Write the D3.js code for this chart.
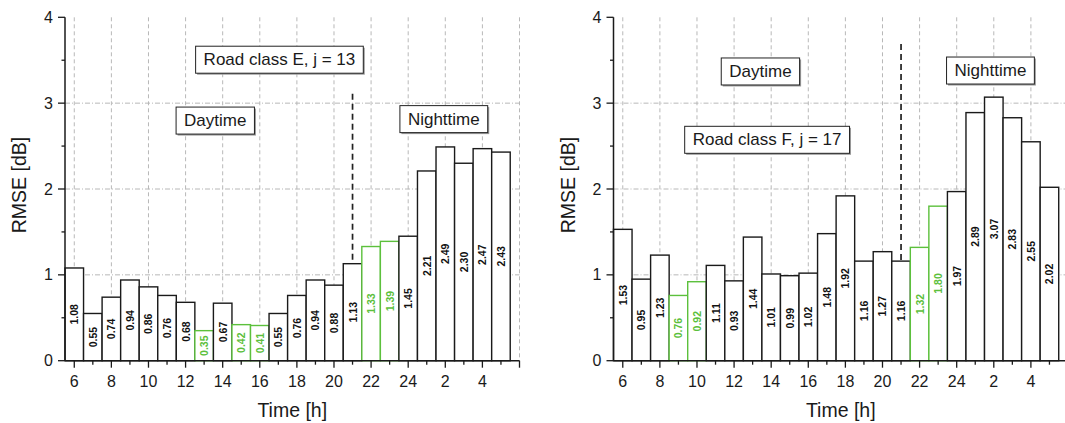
<!DOCTYPE html>
<html><head><meta charset="utf-8">
<script src="https://cdn.jsdelivr.net/npm/d3@7"></script>
<style>
body{margin:0;background:#fff;}
svg{display:block;font-family:"Liberation Sans",Arial,Helvetica,sans-serif;}
</style>
</head><body>
<svg id="chart" width="1065" height="423"></svg>
<script>
// ---------- data ----------
const hours = [6,7,8,9,10,11,12,13,14,15,16,17,18,19,20,21,22,23,24,1,2,3,4,5];
const valuesE = [1.08,0.55,0.74,0.94,0.86,0.76,0.68,0.35,0.67,0.42,0.41,0.55,0.76,0.94,0.88,1.13,1.33,1.39,1.45,2.21,2.49,2.30,2.47,2.43];
const valuesF = [1.53,0.95,1.23,0.76,0.92,1.11,0.93,1.44,1.01,0.99,1.02,1.48,1.92,1.16,1.27,1.16,1.32,1.80,1.97,2.89,3.07,2.83,2.55,2.02];
const greenHoursE = [13,15,16,22,23];
const greenHoursF = [9,10,22,23];
const xTickLabels = ["6","8","10","12","14","16","18","20","22","24","2","4",""];
const yTickValues = [0,1,2,3,4];
const titleE = "Road class E, j = 13";
const titleF = "Road class F, j = 17";
const dayText = "Daytime";
const nightText = "Nighttime";
const xTitle = "Time [h]";
const yTitle = "RMSE [dB]";
const boundaryHour = 21;

// ---------- drawing ----------
const svg = d3.select("#chart");
const GREEN = "#5cc03c", INK = "#1a1a1a", GRID = "#b8b8b8";

function panel(opt){
  const g = svg.append("g");
  const x = d3.scaleLinear().domain([-0.5, 24]).range(opt.xr);
  const y = d3.scaleLinear().domain([0, 4]).range([360.7, 17.3]);
  const x0 = x(-0.5), y0 = y(0);

  // grid
  const majorIdx = d3.range(0, 25, 2);
  g.selectAll(".vg").data(majorIdx).enter().append("line")
    .attr("x1", d => x(d)).attr("x2", d => x(d)).attr("y1", y(4)).attr("y2", y0)
    .attr("stroke", GRID).attr("stroke-width", 1).attr("stroke-dasharray", "4,3");
  g.selectAll(".hg").data([1,2,3]).enter().append("line")
    .attr("x1", x0).attr("x2", x(24)).attr("y1", d => y(d)).attr("y2", d => y(d))
    .attr("stroke", GRID).attr("stroke-width", 1).attr("stroke-dasharray", "5,2,1,2");

  // day/night boundary
  const bi = hours.indexOf(boundaryHour);
  g.append("line").attr("x1", x(bi)).attr("x2", x(bi))
    .attr("y1", y(opt.dashTop)).attr("y2", y0)
    .attr("stroke", "#222").attr("stroke-width", 1.7).attr("stroke-dasharray", "6,4");

  // bars
  const data = opt.values.map((v, i) => ({v, i, h: hours[i], green: opt.green.includes(hours[i])}));
  g.selectAll(".bar").data(data).enter().append("rect")
    .attr("x", d => x(d.i - 0.5)).attr("width", d => x(d.i + 0.5) - x(d.i - 0.5))
    .attr("y", d => y(d.v)).attr("height", d => y0 - y(d.v))
    .attr("fill", "#fff").attr("stroke", d => d.green ? GREEN : INK).attr("stroke-width", 1.4);

  // value labels
  g.selectAll(".vl").data(data).enter().append("text")
    .attr("transform", d => `translate(${x(d.i)},${y(d.v / 2)}) rotate(-90)`)
    .attr("text-anchor", "middle").attr("dominant-baseline", "central")
    .attr("font-size", 10.5).attr("font-weight", "bold")
    .attr("fill", d => d.green ? GREEN : "#111")
    .text(d => d.v.toFixed(2));

  // axes
  g.append("line").attr("x1", x0).attr("x2", x0).attr("y1", y(4)).attr("y2", y0)
    .attr("stroke", INK).attr("stroke-width", 1.5);
  g.append("line").attr("x1", x0).attr("x2", x(24)).attr("y1", y0).attr("y2", y0)
    .attr("stroke", INK).attr("stroke-width", 1.5);
  // y ticks
  g.selectAll(".yt").data(yTickValues).enter().append("line")
    .attr("x1", x0 - 7).attr("x2", x0).attr("y1", d => y(d)).attr("y2", d => y(d))
    .attr("stroke", INK).attr("stroke-width", 1.3);
  g.selectAll(".ymt").data([0.5,1.5,2.5,3.5]).enter().append("line")
    .attr("x1", x0 - 3.5).attr("x2", x0).attr("y1", d => y(d)).attr("y2", d => y(d))
    .attr("stroke", INK).attr("stroke-width", 1.3);
  g.selectAll(".ytl").data(yTickValues).enter().append("text")
    .attr("x", x0 - 12).attr("y", d => y(d)).attr("text-anchor", "end")
    .attr("dominant-baseline", "central").attr("font-size", 16).attr("fill", INK)
    .text(d => d);
  // x ticks
  g.selectAll(".xt").data(majorIdx).enter().append("line")
    .attr("x1", d => x(d)).attr("x2", d => x(d)).attr("y1", y0).attr("y2", y0 + 7)
    .attr("stroke", INK).attr("stroke-width", 1.3);
  g.selectAll(".xmt").data(d3.range(1, 24, 2)).enter().append("line")
    .attr("x1", d => x(d)).attr("x2", d => x(d)).attr("y1", y0).attr("y2", y0 + 4)
    .attr("stroke", INK).attr("stroke-width", 1.3);
  g.selectAll(".xtl").data(majorIdx).enter().append("text")
    .attr("x", d => x(d)).attr("y", y0 + 26).attr("text-anchor", "middle")
    .attr("font-size", 16).attr("fill", INK)
    .text((d, k) => xTickLabels[k]);

  // axis titles
  g.append("text").attr("x", (x0 + x(24)) / 2).attr("y", 416.5).attr("text-anchor", "middle")
    .attr("font-size", 19.5).attr("fill", INK).text(xTitle);
  g.append("text").attr("transform", `translate(${x0 - 46},185) rotate(-90)`)
    .attr("text-anchor", "middle").attr("dominant-baseline", "central")
    .attr("font-size", 19.5).attr("fill", INK).text(yTitle);

  // annotation boxes
  opt.boxes.forEach(b => {
    const cx = x(b.xi), cy = y(b.yv);
    const t = g.append("text").attr("x", cx).attr("y", cy).attr("text-anchor", "middle")
      .attr("dominant-baseline", "central").attr("font-size", 17).attr("fill", INK).text(b.text);
    const bb = t.node().getBBox();
    const w = bb.width + 16, h = 27;
    g.insert("rect", () => t.node()).attr("x", cx - w / 2 + 1.5).attr("y", cy - h / 2 + 1.5)
      .attr("width", w).attr("height", h).attr("fill", "#9a9a9a");
    g.insert("rect", () => t.node()).attr("x", cx - w / 2).attr("y", cy - h / 2)
      .attr("width", w).attr("height", h).attr("fill", "#fff").attr("stroke", "#222").attr("stroke-width", 1);
  });
}

panel({
  xr: [65, 519.5], values: valuesE, green: greenHoursE, dashTop: 3.11,
  boxes: [
    {text: titleE, xi: 11.06, yv: 3.506},
    {text: dayText, xi: 7.6, yv: 2.797},
    {text: nightText, xi: 19.92, yv: 2.814}
  ]
});
panel({
  xr: [613.5, 1068], values: valuesF, green: greenHoursF, dashTop: 3.69,
  boxes: [
    {text: dayText, xi: 7.42, yv: 3.369},
    {text: titleF, xi: 7.78, yv: 2.573},
    {text: nightText, xi: 19.82, yv: 3.38}
  ]
});
</script>
</body></html>
